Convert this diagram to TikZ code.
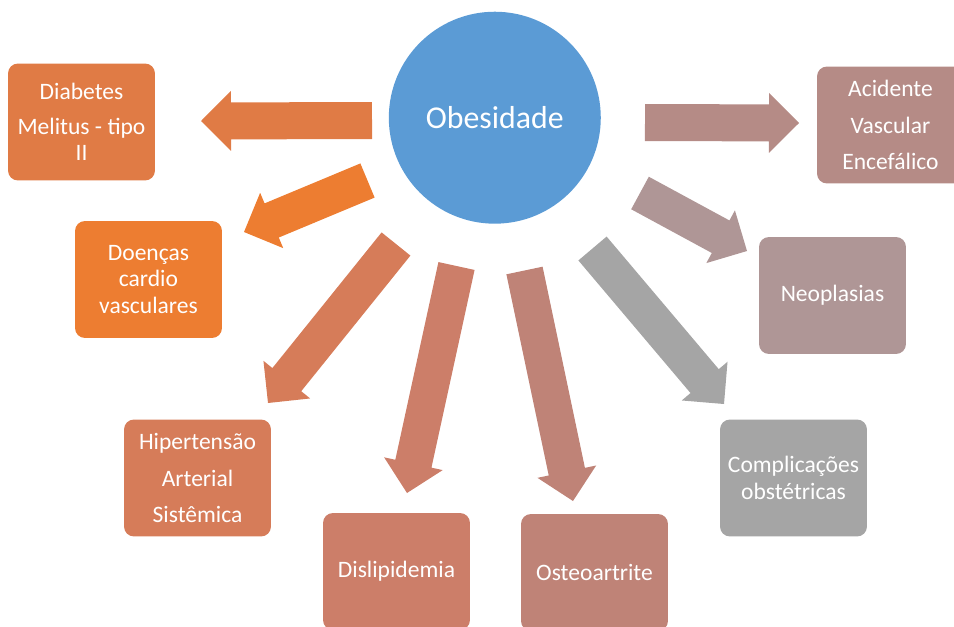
\documentclass[tikz,border=0pt]{standalone}
\usepackage{fontspec}
\setmainfont{Carlito}
\usetikzlibrary{calc}
\definecolor{obesblue}{HTML}{5B9BD5}
\definecolor{diabcol}{HTML}{E07B45}
\definecolor{cardcol}{HTML}{ED7D31}
\definecolor{hipcol}{HTML}{D67C59}
\definecolor{dislcol}{HTML}{CC7E69}
\definecolor{osteocol}{HTML}{BF8377}
\definecolor{obstcol}{HTML}{A5A5A5}
\definecolor{neocol}{HTML}{AF9696}
\definecolor{avecol}{HTML}{B58B86}
\tikzstyle{box}=[rectangle, rounded corners=0.2cm, minimum width=2.94cm, minimum height=2.34cm, inner sep=0pt, text=white, align=center, font=\fontsize{13.4}{20.8}\selectfont]
\tikzstyle{tight}=[font=\fontsize{13.4}{15.2}\selectfont]
\newcommand{\caixa}{\node[box]}
% block arrow from tail coordinate #2 to tip coordinate #3
\newcommand{\seta}[3]{
	\coordinate (nb) at ($(#3)!0.6cm!(#2)$);
	\fill[#1] ($(#2)!0.37cm!90:(#3)$) -- ($(nb)!0.37cm!90:(#3)$) -- ($(nb)!0.6cm!90:(#3)$) -- (#3)
		-- ($(nb)!0.6cm!-90:(#3)$) -- ($(nb)!0.37cm!-90:(#3)$) -- ($(#2)!0.37cm!-90:(#3)$) -- cycle;
}

\begin{document}
\begin{tikzpicture}[x=0.02cm, y=-0.02cm]
\useasboundingbox (0,0) rectangle (954,626);
\clip (0,0) rectangle (954,626);
% tails and tips of the arrows
\coordinate (t1) at (372,120.5); \coordinate (p1) at (201,121);
\coordinate (t2) at (367.5,180.5); \coordinate (p2) at (244,232);
\coordinate (t3) at (396,244); \coordinate (p3) at (268,403);
\coordinate (t4) at (456.5,266); \coordinate (p4) at (407,493);
\coordinate (t5) at (524.5,270.5); \coordinate (p5) at (573,501);
\coordinate (t6) at (592.5,248.5); \coordinate (p6) at (724,404);
\coordinate (t7) at (640,193); \coordinate (p7) at (747,251);
\coordinate (t8) at (645,122.5); \coordinate (p8) at (799,123);
\foreach \i/\c in {1/diabcol,2/cardcol,3/hipcol,4/dislcol,5/osteocol,6/obstcol,7/neocol,8/avecol}{
	\seta{\c}{t\i}{p\i}
	}

\node[circle, fill=obesblue, minimum size=4.24cm, text=white, font=\fontsize{18.1}{20}\selectfont] (obes) at (494.8,117.7) {Obesidade};

\caixa[fill=diabcol, tight] (diab) at (81.5,122) {Diabetes\\[4.5pt]Melitus - tipo\\II};
\caixa[fill=cardcol, tight] (card) at (148.5,279.5) {Doenças\\cardio\\vasculares};
\caixa[fill=hipcol] (hip) at (197.5,478) {Hipertensão\\Arterial\\Sistêmica};
\caixa[fill=dislcol] (disl) at (396.5,571.5) {Dislipidemia};
\caixa[fill=osteocol] (osteo) at (594.5,572.5) {Osteoartrite};
\caixa[fill=obstcol, tight] (obst) at (793.5,478) {Complicações\\obstétricas};
\caixa[fill=neocol] (neo) at (832.5,295.5) {Neoplasias};
\caixa[fill=avecol] (ave) at (890.5,125) {Acidente\\Vascular\\Encefálico};
\end{tikzpicture}
\end{document}
